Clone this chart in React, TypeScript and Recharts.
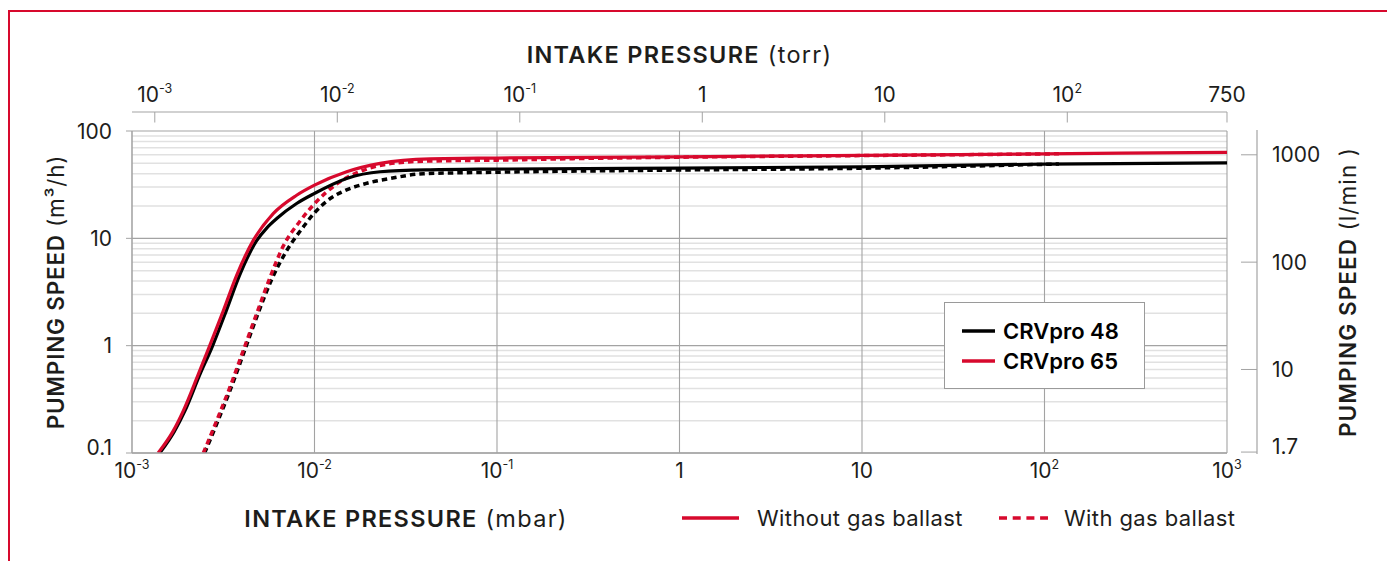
import React from 'react';
import { LineChart, Line, XAxis, YAxis, CartesianGrid, Legend } from 'recharts';

const FONT = 'Inter, "Noto Sans", sans-serif';
const RED = '#d7092d';
const BLACK = '#000000';
const TEXT = '#1d1d1b';
const GRID_MAJOR = '#a3a3a3';
const GRID_MINOR = '#e1e1e1';

// ---------- data (pressure in mbar, speed in m³/h) ----------
const seriesNames = ['CRVpro 48', 'CRVpro 65'];
const ballastNames = ['Without gas ballast', 'With gas ballast'];

// CRVpro 48 without gas ballast
const p48 = [0.00142, 0.00171, 0.00195, 0.00236, 0.00274, 0.00328, 0.00388, 0.0048, 0.0055, 0.00621, 0.00798, 0.01, 0.015, 0.0229, 0.043, 0.1, 1, 10, 100, 1000];
const s48 = [0.1, 0.16, 0.247, 0.543, 0.96, 2.1, 4.5, 9.4, 12.6, 15.3, 21.1, 26.2, 36.1, 41.7, 43.5, 44.2, 45.1, 46.4, 49.2, 50.5];

// CRVpro 65 without gas ballast
const p65 = [0.00139, 0.00168, 0.00191, 0.00231, 0.00264, 0.00316, 0.00374, 0.00462, 0.00594, 0.00798, 0.01, 0.015, 0.0229, 0.043, 0.1, 1, 10, 100, 1000];
const s65 = [0.1, 0.16, 0.247, 0.543, 0.96, 2.1, 4.5, 9.57, 17.0, 25.2, 31.3, 41.7, 49.9, 55.0, 56.0, 57.5, 59.2, 61.3, 63.3];

// CRVpro 48 with gas ballast
const p48g = [0.0025, 0.00296, 0.0035, 0.00414, 0.00488, 0.00585, 0.00695, 0.00869, 0.01, 0.0122, 0.0145, 0.019, 0.026, 0.0395, 0.1, 1, 10, 120];
const s48g = [0.1, 0.2, 0.41, 0.9, 1.95, 4.2, 7.4, 12.8, 17.3, 23.5, 27.6, 32.3, 36.1, 40.0, 41.3, 43.3, 45.0, 49.3];

// CRVpro 65 with gas ballast
const p65g = [0.00246, 0.00291, 0.00344, 0.00407, 0.0048, 0.0057, 0.00675, 0.00834, 0.01, 0.0132, 0.0185, 0.0282, 0.043, 0.1, 0.3, 1, 10, 120];
const s65g = [0.1, 0.2, 0.41, 0.9, 1.95, 4.3, 8.5, 14.5, 21.0, 32.0, 43.0, 50.5, 52.5, 53.5, 55.5, 57.0, 59.0, 61.3];

// ---------- axes ----------
const mbarTicks = [0.001, 0.01, 0.1, 1, 10, 100, 1000];
const mbarTickLabels: [string, string][] = [['10', '-3'], ['10', '-2'], ['10', '-1'], ['1', ''], ['10', ''], ['10', '2'], ['10', '3']];
const torrTicks = [0.001, 0.01, 0.1, 1, 10, 100, 750];
const torrTickLabels: [string, string][] = [['10', '-3'], ['10', '-2'], ['10', '-1'], ['1', ''], ['10', ''], ['10', '2'], ['750', '']];
const speedTicks = [0.1, 1, 10, 100];
const speedTickLabels = ['0.1', '1', '10', '100'];
const lminTicks = [1.7, 10, 100, 1000];
const lminTickLabels = ['1.7', '10', '100', '1000'];
const minorSpeeds = [0.2, 0.3, 0.4, 0.5, 0.6, 0.7, 0.8, 0.9, 2, 3, 4, 5, 6, 7, 8, 9, 20, 30, 40, 50, 60, 70, 80, 90];

const MBAR_PER_TORR = 1.33322;
const LMIN_PER_M3H = 1000 / 60;

const toData = (p: number[], s: number[]) => p.map((x, i) => ({ p: x, s: s[i] }));
const torrAxisData = torrTicks.map((t) => ({ torr: t }));

const TICK_FS = 21;

const PowerText = ({ x, y, base, exp }: any) => (
  <text x={x} y={y} textAnchor="middle" fontFamily={FONT} fontSize={TICK_FS} fill={TEXT}>
    {base}
    {exp ? (
      <tspan dy={-9} fontSize={12.5}>
        {exp}
      </tspan>
    ) : null}
  </text>
);

const MbarTick = (props: any) => {
  const { x, y, payload } = props;
  const i = mbarTicks.indexOf(payload.value);
  const [b, e] = mbarTickLabels[i] || ['', ''];
  return <PowerText x={x} y={y + 25} base={b} exp={e} />;
};

const TorrTick = (props: any) => {
  const { x, y, payload } = props;
  const i = torrTicks.indexOf(payload.value);
  const [b, e] = torrTickLabels[i] || ['', ''];
  return (
    <g>
      <line x1={x} x2={x} y1={y - 19} y2={y - 8.5} stroke={GRID_MAJOR} strokeWidth={1} />
      <PowerText x={x} y={y - 29} base={b} exp={e} />
    </g>
  );
};

const SpeedTick = (props: any) => {
  const { x, y, payload } = props;
  const i = speedTicks.indexOf(payload.value);
  const shift = i === 0 ? -6 : 0;
  return (
    <text x={x} y={y + 7.5 + shift} textAnchor="end" fontFamily={FONT} fontSize={TICK_FS} fill={TEXT}>
      {speedTickLabels[i]}
    </text>
  );
};

const LminTick = (props: any) => {
  const { x, y, payload } = props;
  const i = lminTicks.indexOf(payload.value);
  const shift = i === 0 ? -6 : 0;
  return (
    <g>
      <line x1={x + 14} x2={x + 30} y1={y} y2={y} stroke={GRID_MAJOR} strokeWidth={1} />
      <text x={x + 45} y={y + 7.5 + shift} textAnchor="start" fontFamily={FONT} fontSize={TICK_FS} fill={TEXT}>
        {lminTickLabels[i]}
      </text>
    </g>
  );
};

const Title = ({ x, y, bold, rest, rotate, size = 23.5, spacing = 1.3 }: any) => (
  <text
    x={x}
    y={y}
    textAnchor="middle"
    dominantBaseline="central"
    fontFamily={FONT}
    fontSize={size}
    letterSpacing={spacing}
    fill={TEXT}
    transform={rotate ? `rotate(-90 ${x} ${y})` : undefined}
  >
    <tspan fontWeight={600}>{bold}</tspan>
    <tspan fontWeight={400}>{rest}</tspan>
  </text>
);

const TopDecor = (props: any) => {
  const vb = props.viewBox || {};
  const lineY = vb.y + vb.height - 19;
  return (
    <g>
      <line x1={vb.x} x2={vb.x + vb.width} y1={lineY} y2={lineY} stroke={GRID_MAJOR} strokeWidth={1.2} />
      <Title x={vb.x + vb.width / 2} y={54} bold="INTAKE PRESSURE" rest=" (torr)" />
    </g>
  );
};

const BottomDecor = (props: any) => {
  const vb = props.viewBox || {};
  return <Title x={406} y={vb.y + 65} bold="INTAKE PRESSURE" rest=" (mbar)" />;
};

const LeftDecor = (props: any) => {
  const vb = props.viewBox || {};
  return <Title x={55} y={vb.y + vb.height / 2} bold="PUMPING SPEED" rest=" (m³/h)" rotate size={22.5} spacing={0.8} />;
};

const RightDecor = (props: any) => {
  const vb = props.viewBox || {};
  const ax = vb.x + 30;
  return (
    <g>
      <line x1={ax} x2={ax} y1={vb.y - 1} y2={vb.y + vb.height + 1} stroke={GRID_MAJOR} strokeWidth={1.2} />
      <Title x={vb.x + 120} y={vb.y + vb.height / 2} bold="PUMPING SPEED" rest=" (l/min )" rotate size={22.5} spacing={1.1} />
    </g>
  );
};

const LegendContent = () => (
  <svg width={1387} height={561} style={{ position: 'absolute', left: 0, top: 0 }}>
    {/* model legend box */}
    <rect x={944.5} y={302.5} width={200} height={86} fill="#ffffff" stroke="#9a9a9a" strokeWidth={1} />
    <line x1={962} x2={995} y1={331} y2={331} stroke={BLACK} strokeWidth={3.5} />
    <text x={1003} y={339} fontFamily={FONT} fontSize={22} fontWeight={600} fill={BLACK}>
      {seriesNames[0]}
    </text>
    <line x1={962} x2={995} y1={361} y2={361} stroke={RED} strokeWidth={3.5} />
    <text x={1003} y={369} fontFamily={FONT} fontSize={22} fontWeight={600} fill={BLACK}>
      {seriesNames[1]}
    </text>
    {/* line style legend */}
    <line x1={682} x2={739} y1={518} y2={518} stroke={RED} strokeWidth={3.5} />
    <text x={757} y={525.5} fontFamily={FONT} fontSize={22} letterSpacing={0.4} fill={TEXT}>
      {ballastNames[0]}
    </text>
    <line x1={999} x2={1048} y1={518} y2={518} stroke={RED} strokeWidth={3.5} strokeDasharray="8 5.7" />
    <text x={1064} y={525.5} fontFamily={FONT} fontSize={22} letterSpacing={0.4} fill={TEXT}>
      {ballastNames[1]}
    </text>
  </svg>
);

export default function App() {
  return (
    <div
      style={{
        position: 'absolute',
        left: 0,
        top: 0,
        width: 1387,
        height: 561,
        background: '#ffffff',
        overflow: 'hidden',
        fontFamily: FONT,
      }}
    >
      <div
        style={{
          position: 'absolute',
          left: 7.5,
          top: 9.5,
          width: 1400,
          height: 600,
          borderTop: `2.5px solid ${RED}`,
          borderLeft: `2.5px solid ${RED}`,
          boxSizing: 'border-box',
        }}
      />
      <div style={{ position: 'absolute', left: 0, top: 0 }}>
        <LineChart width={1387} height={561} data={torrAxisData} margin={{ top: 0, right: 0, bottom: 0, left: 0 }}>
          <CartesianGrid vertical={false} horizontalValues={minorSpeeds} stroke={GRID_MINOR} strokeWidth={1.5} />
          <CartesianGrid horizontalValues={speedTicks} verticalValues={mbarTicks} stroke={GRID_MAJOR} strokeWidth={1.1} />
          <XAxis
            dataKey="p"
            type="number"
            scale="log"
            domain={[0.001, 1000]}
            allowDataOverflow
            ticks={mbarTicks}
            interval={0}
            orientation="bottom"
            height={108}
            tickLine={false}
            tickSize={0}
            tickMargin={0}
            axisLine={{ stroke: GRID_MAJOR, strokeWidth: 1.5 }}
            tick={<MbarTick />}
            label={<BottomDecor />}
          />
          <XAxis
            xAxisId="torr"
            dataKey="torr"
            type="number"
            scale="log"
            domain={[0.001 / MBAR_PER_TORR, 1000 / MBAR_PER_TORR]}
            allowDataOverflow
            ticks={torrTicks}
            interval={0}
            orientation="top"
            height={131}
            tickLine={false}
            tickSize={0}
            tickMargin={0}
            axisLine={false}
            tick={<TorrTick />}
            label={<TopDecor />}
          />
          <YAxis
            type="number"
            scale="log"
            domain={[0.1, 100]}
            allowDataOverflow
            ticks={speedTicks}
            interval={0}
            orientation="left"
            width={132}
            tickSize={6}
            tickMargin={14}
            tickLine={{ stroke: GRID_MAJOR }}
            axisLine={{ stroke: GRID_MAJOR }}
            tick={<SpeedTick />}
            label={<LeftDecor />}
          />
          <YAxis
            yAxisId="lmin"
            type="number"
            scale="log"
            domain={[0.1 * LMIN_PER_M3H, 100 * LMIN_PER_M3H]}
            allowDataOverflow
            ticks={lminTicks}
            interval={0}
            orientation="right"
            width={160}
            tickSize={0}
            tickMargin={0}
            tickLine={false}
            axisLine={false}
            tick={<LminTick />}
            label={<RightDecor />}
          />
          <Line data={toData(p48g, s48g)} dataKey="s" name={`${seriesNames[0]} ${ballastNames[1]}`} type="monotone" stroke={BLACK} strokeWidth={3.5} strokeDasharray="5.5 4" dot={false} isAnimationActive={false} />
          <Line data={toData(p65g, s65g)} dataKey="s" name={`${seriesNames[1]} ${ballastNames[1]}`} type="monotone" stroke={RED} strokeWidth={3.5} strokeDasharray="5.5 4" dot={false} isAnimationActive={false} />
          <Line data={toData(p48, s48)} dataKey="s" name={`${seriesNames[0]} ${ballastNames[0]}`} type="monotone" stroke={BLACK} strokeWidth={3.2} dot={false} isAnimationActive={false} />
          <Line data={toData(p65, s65)} dataKey="s" name={`${seriesNames[1]} ${ballastNames[0]}`} type="monotone" stroke={RED} strokeWidth={3.2} dot={false} isAnimationActive={false} />
          <Legend
            content={<LegendContent />}
            layout="horizontal"
            verticalAlign="middle"
            align="center"
            wrapperStyle={{ left: 0, top: 0, width: 1387, height: 561, pointerEvents: 'none' }}
          />
        </LineChart>
      </div>
    </div>
  );
}
